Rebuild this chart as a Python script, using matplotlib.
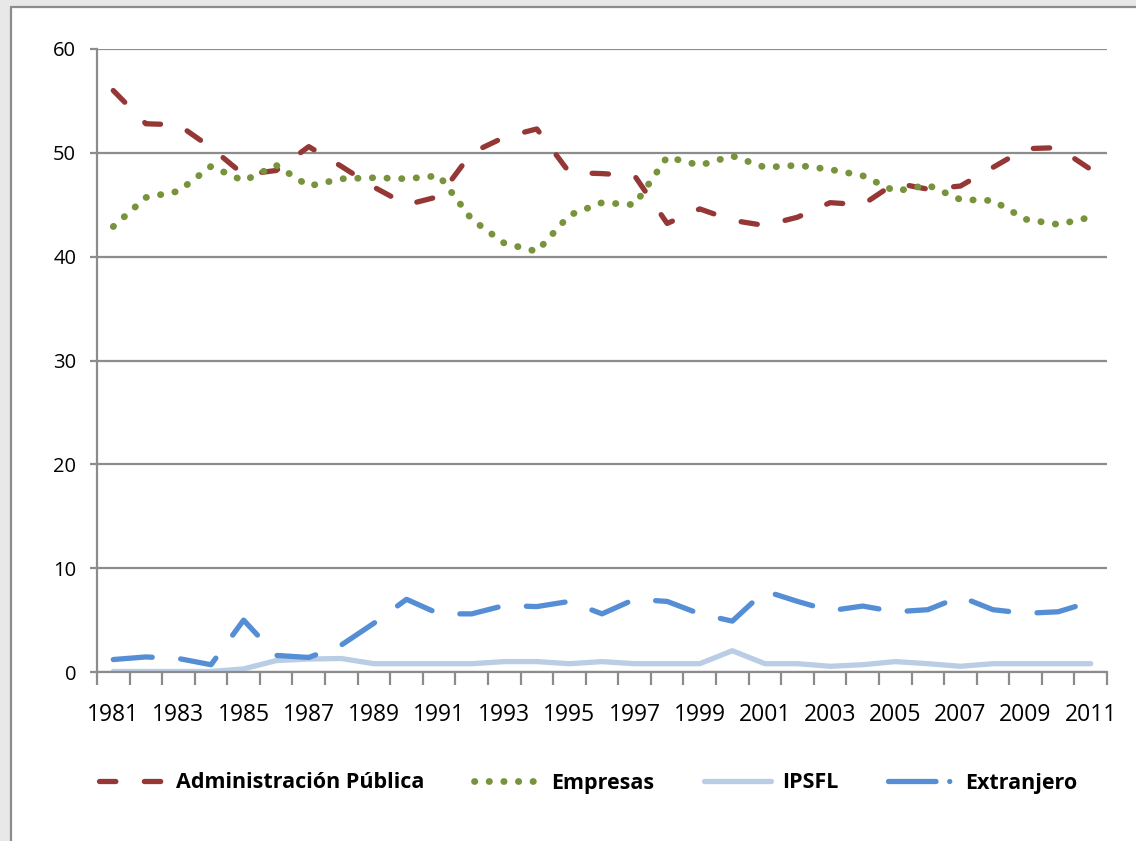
import numpy as np
import matplotlib.pyplot as plt
from matplotlib.patches import Rectangle
from matplotlib.lines import Line2D

years = list(range(1981, 2012))

administracion = [56.0, 52.8, 52.7, 50.5, 47.9, 48.3, 50.6, 48.7, 46.7, 45.0,
                  45.8, 50.0, 51.5, 52.3, 48.1, 48.0, 47.8, 43.2, 44.6, 43.5,
                  43.0, 43.8, 45.2, 45.0, 47.1, 46.5, 46.8, 48.6, 50.4, 50.5,
                  48.4]
empresas = [42.9, 45.7, 46.3, 48.7, 47.3, 48.8, 46.8, 47.5, 47.6, 47.5,
            47.8, 43.6, 41.3, 40.5, 44.0, 45.2, 45.0, 49.6, 48.8, 49.7,
            48.6, 48.8, 48.4, 47.8, 46.3, 46.9, 45.5, 45.4, 43.6, 43.1,
            43.8]
ipsfl = [0.05, 0.05, 0.05, 0.05, 0.3, 1.1, 1.25, 1.3, 0.8, 0.8,
         0.8, 0.8, 1.0, 1.0, 0.8, 1.0, 0.8, 0.8, 0.8, 2.05,
         0.8, 0.8, 0.55, 0.7, 1.0, 0.8, 0.55, 0.8, 0.8, 0.8,
         0.8]
extranjero = [1.2, 1.45, 1.3, 0.7, 5.0, 1.6, 1.4, 2.6, 4.7, 7.0,
              5.6, 5.6, 6.4, 6.3, 6.8, 5.6, 7.0, 6.8, 5.6, 4.9,
              7.8, 6.8, 5.9, 6.35, 5.8, 6.0, 7.25, 6.0, 5.65, 5.8,
              6.75]

series_names = ["Administración Pública", "Empresas", "IPSFL", "Extranjero"]
colors = ["#953735", "#77933c", "#b9cde5", "#558ed5"]

plt.rcParams["font.family"] = ["Open Sans", "DejaVu Sans"]
grid_color = "#8c8c8c"

fig = plt.figure(figsize=(11.36, 8.41), dpi=100)
fig.patch.set_facecolor("#e8e8e8")
# white chart area with grey frame (cut by the right/bottom image edges)
fig.patches.append(Rectangle((11 / 1136, -0.05), 1.1, 1.05 - 7 / 841,
                             transform=fig.transFigure, facecolor="white",
                             edgecolor=grid_color, linewidth=1.6, zorder=-5))

ax = fig.add_axes([97 / 1136, 1 - 672 / 841, (1107 - 97) / 1136, (672 - 49) / 841])
ax.set_facecolor("white")

x = np.arange(len(years))
lw = 3.8
ax.plot(x, administracion, color=colors[0], lw=lw, linestyle=(0, (3.1, 5.4)),
        dash_capstyle="round", zorder=3)
ax.plot(x, empresas, color=colors[1], lw=4.9, linestyle=(0, (0.05, 2.1)),
        dash_capstyle="round", zorder=3)
ax.plot(x, ipsfl, color=colors[2], lw=lw, solid_capstyle="round",
        solid_joinstyle="round", zorder=2)
ax.plot(x, extranjero, color=colors[3], lw=lw, linestyle=(0, (7.4, 5.4)),
        dash_capstyle="round", zorder=3)

ax.set_xlim(-0.5, len(years) - 0.5)
ax.set_ylim(0, 60)

# y axis
ax.set_yticks(range(0, 61, 10))
ax.yaxis.grid(True, color=grid_color, linewidth=1.6)
ax.set_axisbelow(True)
ax.tick_params(axis="y", length=5, width=1.6, color=grid_color, pad=10,
               labelsize=14.5)

# x axis: boundary ticks + labels every other year
ax.set_xticks(np.arange(-0.5, len(years)), minor=False)
ax.set_xticklabels([])
ax.tick_params(axis="x", which="major", length=9, width=1.6, color=grid_color)
ax.set_xticks(x[::2], minor=True)
ax.set_xticklabels([str(y) for y in years[::2]], minor=True)
ax.tick_params(axis="x", which="minor", length=0, pad=22, labelsize=16.5)

for side in ["top", "right"]:
    ax.spines[side].set_visible(False)
for side in ["left", "bottom"]:
    ax.spines[side].set_color(grid_color)
    ax.spines[side].set_linewidth(1.6)

# legend handles as drawn by the original chart
handles = [
    Line2D([], [], color=colors[0], lw=lw, linestyle=(0, (3.1, 5.4)),
           dash_capstyle="round"),
    Line2D([], [], color=colors[1], lw=4.9, linestyle=(0, (0.05, 2.1)),
           dash_capstyle="round"),
    Line2D([], [], color=colors[2], lw=lw, solid_capstyle="round"),
    Line2D([], [], color=colors[3], lw=lw, linestyle=(0, (9.0, 2.6, 0.01, 10)),
           dash_capstyle="round"),
]
fig.legend(handles, series_names, loc="center",
           bbox_to_anchor=(588 / 1136, 1 - 783 / 841),
           ncol=4, frameon=False, handlelength=3.1, handletextpad=0.5,
           columnspacing=2.3, prop={"weight": "bold", "size": 15.5})

fig.savefig("out.png", dpi=100, facecolor=fig.get_facecolor())
